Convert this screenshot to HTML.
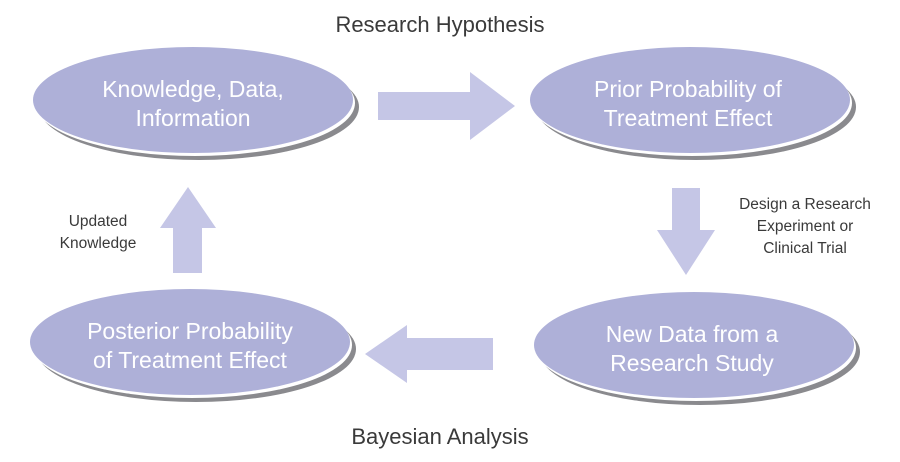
<!DOCTYPE html>
<html><head><meta charset="utf-8"><style>
html,body{margin:0;padding:0;background:#fff;width:900px;height:462px;overflow:hidden}
</style></head><body>
<svg width="900" height="462" viewBox="0 0 900 462" xmlns="http://www.w3.org/2000/svg" font-family="Liberation Sans, sans-serif">
<defs>
<g id="e">
<ellipse cx="6" cy="7" rx="160" ry="53" fill="#8a8a8e"/>
<ellipse cx="2" cy="3" rx="160" ry="53" fill="#fff"/>
<ellipse cx="0" cy="0" rx="160" ry="53" fill="#aeb0d8"/>
</g>
</defs>
<text x="440" y="32" font-size="22" fill="#3a3a3a" text-anchor="middle">Research Hypothesis</text>
<text x="440" y="444" font-size="22" fill="#3a3a3a" text-anchor="middle">Bayesian Analysis</text>

<use href="#e" x="193" y="100"/>
<use href="#e" x="690" y="100"/>
<use href="#e" x="190" y="342"/>
<use href="#e" x="694" y="345"/>

<g fill="#fff" font-size="23" text-anchor="middle">
<text x="193" y="97">Knowledge, Data,</text><text x="193" y="126">Information</text>
<text x="688" y="97">Prior Probability of</text><text x="688" y="126">Treatment Effect</text>
<text x="190" y="339">Posterior Probability</text><text x="190" y="368">of Treatment Effect</text>
<text x="692" y="342">New Data from a</text><text x="692" y="371">Research Study</text>
</g>

<g fill="#c5c6e6">
<polygon points="378,92 470,92 470,72 515,106 470,140 470,120 378,120"/>
<polygon points="672,188 700,188 700,230 715,230 686,275 657,230 672,230"/>
<polygon points="173,273 202,273 202,228 216,228 188,187 160,228 173,228"/>
<polygon points="493,338 407,338 407,325 365,354 407,383 407,370 493,370"/>
</g>

<g fill="#3a3a3a" font-size="15.5" text-anchor="middle">
<text x="805" y="209">Design a Research</text>
<text x="805" y="231">Experiment or</text>
<text x="805" y="253">Clinical Trial</text>
<text x="98" y="226">Updated</text>
<text x="98" y="248">Knowledge</text>
</g>
</svg>
</body></html>
